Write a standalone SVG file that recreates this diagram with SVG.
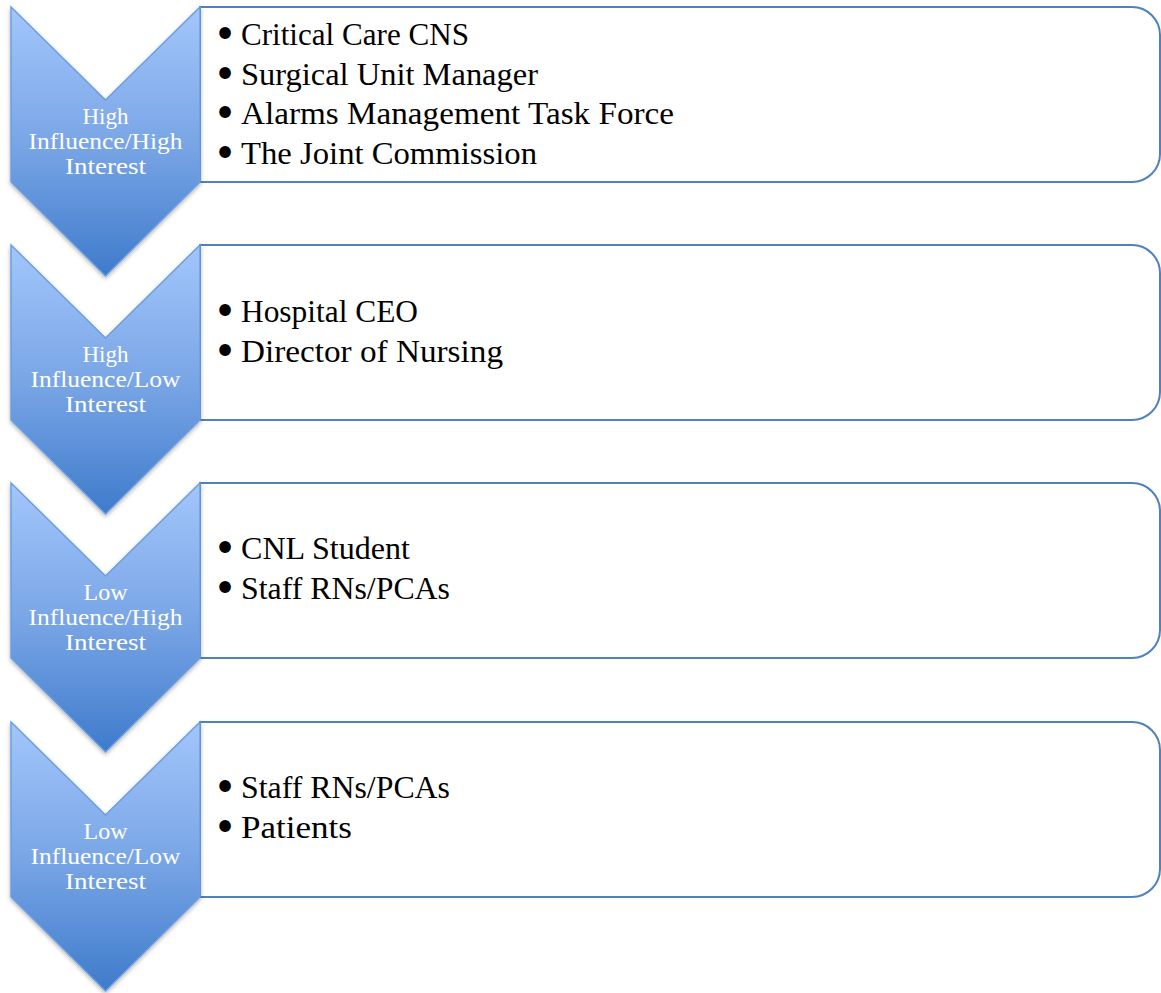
<svg xmlns="http://www.w3.org/2000/svg" width="1161" height="993" viewBox="0 0 1161 993">
  <style>
    .box { fill: #ffffff; stroke: #4f81bd; stroke-width: 2; }
    .chev { fill: url(#chevFill); stroke: #6b9ee0; stroke-width: 1.5; filter: url(#shadow); }
    .lbl { font-family: "Liberation Serif", "Times New Roman", serif; font-size: 24px; fill: #ffffff; text-anchor: middle; }
    .item { font-family: "Liberation Serif", "Times New Roman", serif; font-size: 31px; fill: #000000; }
    .bul { font-family: "DejaVu Sans", sans-serif; font-size: 33px; font-weight: bold; fill: #000000; text-anchor: middle; }
  </style>
  <defs>
    <linearGradient id="chevFill" x1="0" y1="0" x2="0" y2="1">
      <stop offset="0" stop-color="#a3c6fb"/>
      <stop offset="0.5" stop-color="#7aa6e6"/>
      <stop offset="1" stop-color="#3e7bcb"/>
    </linearGradient>
    <filter id="shadow" x="-20%" y="-10%" width="140%" height="130%">
      <feDropShadow dx="0" dy="2" stdDeviation="2" flood-color="#000000" flood-opacity="0.3"/>
    </filter>
    <!-- chevron shape, drawn from its top-left corner -->
    <path id="chevShape" d="M11,0 L105.5,93 L200,0 L200,175 L105.5,269 L11,175 Z"/>
    <!-- list panel with rounded right corners -->
    <path id="panelShape" d="M200,0 H1132 A28,28 0 0 1 1160,28 V147 A28,28 0 0 1 1132,175 H200 Z"/>
  </defs>

  <!-- connectors: none in this list layout -->
  <g id="connectors"/>

  <!-- stage 1 -->
  <g id="stage1" transform="translate(0,7)">
    <use href="#panelShape" class="box"/>
    <use href="#chevShape" class="chev"/>
    <text class="lbl" x="105.5" y="117" textLength="46" lengthAdjust="spacingAndGlyphs">High</text>
    <text class="lbl" x="105.5" y="142" textLength="154" lengthAdjust="spacingAndGlyphs">Influence/High</text>
    <text class="lbl" x="105.5" y="167" textLength="81" lengthAdjust="spacingAndGlyphs">Interest</text>
    <text class="bul" x="225" y="39">•</text>
    <text class="item" x="241" y="38" textLength="228" lengthAdjust="spacingAndGlyphs">Critical Care CNS</text>
    <text class="bul" x="225" y="79">•</text>
    <text class="item" x="241" y="78" textLength="297" lengthAdjust="spacingAndGlyphs">Surgical Unit Manager</text>
    <text class="bul" x="225" y="118">•</text>
    <text class="item" x="241" y="117" textLength="433" lengthAdjust="spacingAndGlyphs">Alarms Management Task Force</text>
    <text class="bul" x="225" y="158">•</text>
    <text class="item" x="241" y="157" textLength="296" lengthAdjust="spacingAndGlyphs">The Joint Commission</text>
  </g>

  <!-- stage 2 -->
  <g id="stage2" transform="translate(0,245)">
    <use href="#panelShape" class="box"/>
    <use href="#chevShape" class="chev"/>
    <text class="lbl" x="105.5" y="117" textLength="46" lengthAdjust="spacingAndGlyphs">High</text>
    <text class="lbl" x="105.5" y="142" textLength="150" lengthAdjust="spacingAndGlyphs">Influence/Low</text>
    <text class="lbl" x="105.5" y="167" textLength="81" lengthAdjust="spacingAndGlyphs">Interest</text>
    <text class="bul" x="225" y="78">•</text>
    <text class="item" x="241" y="77" textLength="177" lengthAdjust="spacingAndGlyphs">Hospital CEO</text>
    <text class="bul" x="225" y="118">•</text>
    <text class="item" x="241" y="117" textLength="262" lengthAdjust="spacingAndGlyphs">Director of Nursing</text>
  </g>

  <!-- stage 3 -->
  <g id="stage3" transform="translate(0,483)">
    <use href="#panelShape" class="box"/>
    <use href="#chevShape" class="chev"/>
    <text class="lbl" x="105.5" y="117" textLength="44" lengthAdjust="spacingAndGlyphs">Low</text>
    <text class="lbl" x="105.5" y="142" textLength="154" lengthAdjust="spacingAndGlyphs">Influence/High</text>
    <text class="lbl" x="105.5" y="167" textLength="81" lengthAdjust="spacingAndGlyphs">Interest</text>
    <text class="bul" x="225" y="77">•</text>
    <text class="item" x="241" y="76" textLength="169" lengthAdjust="spacingAndGlyphs">CNL Student</text>
    <text class="bul" x="225" y="117">•</text>
    <text class="item" x="241" y="116" textLength="209" lengthAdjust="spacingAndGlyphs">Staff RNs/PCAs</text>
  </g>

  <!-- stage 4 -->
  <g id="stage4" transform="translate(0,722)">
    <use href="#panelShape" class="box"/>
    <use href="#chevShape" class="chev"/>
    <text class="lbl" x="105.5" y="117" textLength="44" lengthAdjust="spacingAndGlyphs">Low</text>
    <text class="lbl" x="105.5" y="142" textLength="150" lengthAdjust="spacingAndGlyphs">Influence/Low</text>
    <text class="lbl" x="105.5" y="167" textLength="81" lengthAdjust="spacingAndGlyphs">Interest</text>
    <text class="bul" x="225" y="77">•</text>
    <text class="item" x="241" y="76" textLength="209" lengthAdjust="spacingAndGlyphs">Staff RNs/PCAs</text>
    <text class="bul" x="225" y="117">•</text>
    <text class="item" x="241" y="116" textLength="111" lengthAdjust="spacingAndGlyphs">Patients</text>
  </g>
</svg>
